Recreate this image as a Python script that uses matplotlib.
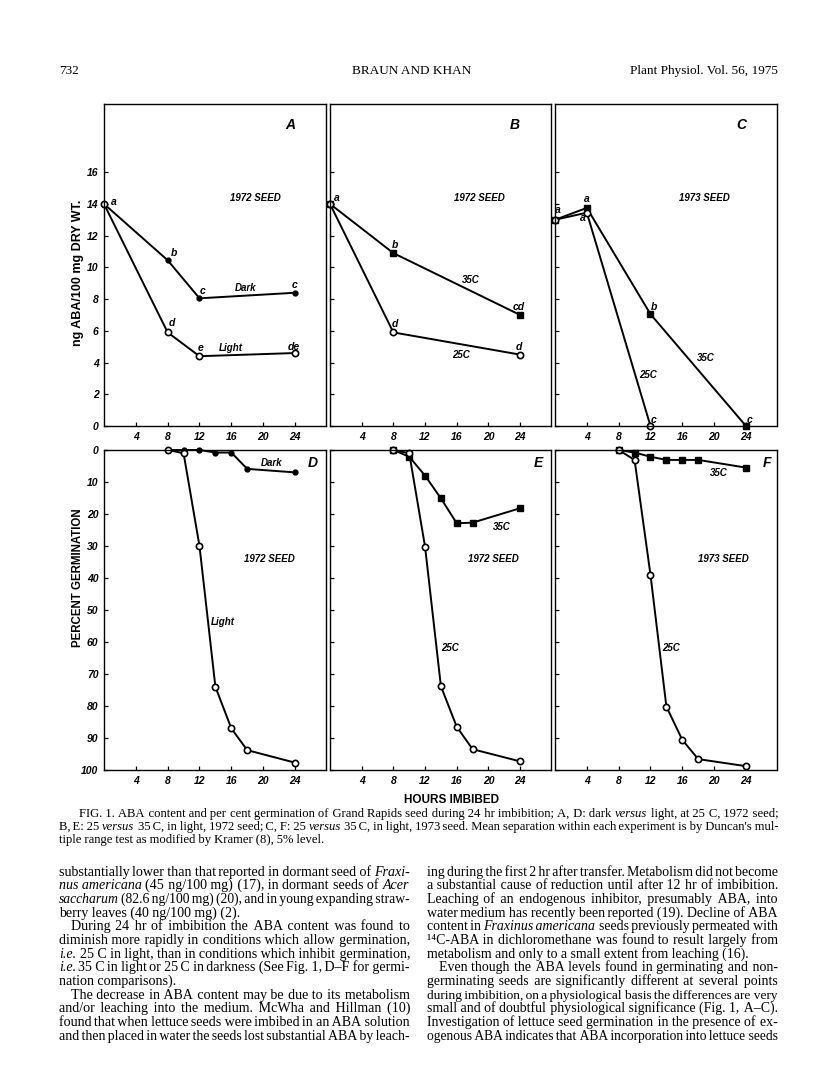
import matplotlib
matplotlib.use('Agg')
import matplotlib.pyplot as plt
import numpy as np

W, H = 816, 1090
SERIF = ['Liberation Serif', 'DejaVu Serif']
SANS = ['Liberation Sans', 'DejaVu Sans']
HAIR = '\u200a'

# ---- data ----
hours_a = [0, 8, 12, 24]
aba_dark = [14.0, 10.45, 8.05, 8.4]
aba_light = [14.0, 5.9, 4.4, 4.6]

hours_b = [0, 8, 24]
aba_b35 = [14.0, 10.9, 7.0]
aba_b25 = [14.0, 5.9, 4.5]

hours_c35 = [0, 4, 12, 24]
aba_c35 = [13.0, 13.75, 7.05, 0.0]
hours_c25 = [0, 4, 12]
aba_c25 = [13.0, 13.45, 0.0]

hours_g = [8, 10, 12, 14, 16, 18, 24]
germ_dark = [0, 0, 0, 0.8, 0.8, 5.9, 7.0]
germ_light = [0, 1.0, 30, 74, 87, 93.8, 97.7]
germ_e35 = [0, 2.1, 8.0, 15.1, 22.9, 22.7, 18.2]
germ_e25 = [0, 1.0, 30.2, 73.8, 86.5, 93.5, 97.3]
germ_f35 = [0, 0.8, 2.1, 3.1, 3.1, 3.1, 5.5]
germ_f25 = [0, 3.1, 39, 80.2, 90.6, 96.6, 98.8]

hour_ticks = [4, 8, 12, 16, 20, 24]
aba_ticks = [0, 2, 4, 6, 8, 10, 12, 14, 16]
germ_ticks = [0, 10, 20, 30, 40, 50, 60, 70, 80, 90, 100]

# mean-separation letters (x, y, text)
letters_a = [(1.25, 14.1, 'a'), (8.8, 10.9, 'b'), (12.4, 8.5, 'c'), (23.9, 8.9, 'c'),
             (8.5, 6.5, 'd'), (12.1, 4.9, 'e'), (23.9, 5.0, 'de')]
letters_b = [(0.9, 14.4, 'a'), (8.2, 11.4, 'b'), (23.8, 7.5, 'cd'),
             (8.2, 6.4, 'd'), (23.8, 5.0, 'd')]
letters_c = [(0.4, 13.6, 'a'), (4.05, 14.3, 'a'), (3.55, 13.1, 'a'),
             (12.4, 7.5, 'b'), (12.4, 0.4, 'c'), (24.4, 0.4, 'c')]

fig = plt.figure(figsize=(W / 100, H / 100), dpi=100, facecolor='white')


def px_axes(left, top, right, bottom):
    return fig.add_axes([left / W, 1 - bottom / H, (right - left) / W, (bottom - top) / H])


def style_axes(ax):
    for sp in ax.spines.values():
        sp.set_linewidth(1.0)
    ax.set_xlim(0, 27.9)
    ax.set_xticks(hour_ticks)
    ax.tick_params(direction='in', length=3, width=0.9, pad=4)
    for lab in ax.get_xticklabels() + ax.get_yticklabels():
        lab.set_family(SANS)
        lab.set_fontweight('bold')
        lab.set_style('italic')
        lab.set_fontsize(7.5)


def lab(ax, x, y, s, size=7, ha='center'):
    ax.text(x, y, s, fontsize=size, family=SANS, fontweight='bold', style='italic',
            ha=ha, va='center')


LW = 1.4
filled_dot = dict(marker='o', ms=3.5, mfc='black', mec='black', color='black', lw=LW, clip_on=False)
open_dot = dict(marker='o', ms=4.5, mfc='white', mec='black', mew=1.2, color='black', lw=LW, clip_on=False)
filled_sq = dict(marker='s', ms=3.8, mfc='black', mec='black', color='black', lw=LW, clip_on=False)

cols = [(104, 326), (330, 551), (555, 777)]

# ---- top row: ABA content ----
axA = px_axes(cols[0][0], 104, cols[0][1], 426)
axB = px_axes(cols[1][0], 104, cols[1][1], 426)
axC = px_axes(cols[2][0], 104, cols[2][1], 426)

axA.plot(hours_a, aba_dark, **filled_dot)
axA.plot(hours_a, aba_light, **open_dot)
axB.plot(hours_b, aba_b35, **filled_sq)
axB.plot(hours_b, aba_b25, **open_dot)
axC.plot(hours_c35, aba_c35, **filled_sq)
axC.plot(hours_c25, aba_c25, **open_dot)

for ax, letters in [(axA, letters_a), (axB, letters_b), (axC, letters_c)]:
    ax.set_ylim(0, 20.3)
    ax.set_yticks(aba_ticks)
    for x, y, s in letters:
        lab(ax, x, y, s, size=7.5)

lab(axA, 17.8, 8.7, 'Dark')
lab(axA, 16.0, 4.9, 'Light')
lab(axB, 17.8, 9.2, '35C')
lab(axB, 16.6, 4.5, '25C')
lab(axC, 19.0, 4.3, '35C')
lab(axC, 11.7, 3.2, '25C')
lab(axA, 19.0, 14.4, '1972 SEED')
lab(axB, 18.8, 14.4, '1972 SEED')
lab(axC, 18.8, 14.4, '1973 SEED')
lab(axA, 23.4, 19.0, 'A', size=10)
lab(axB, 23.3, 19.0, 'B', size=10)
lab(axC, 23.4, 19.0, 'C', size=10)

for ax in (axA, axB, axC):
    style_axes(ax)
for ax in (axB, axC):
    ax.tick_params(labelleft=False)

# ---- bottom row: germination ----
axD = px_axes(cols[0][0], 450, cols[0][1], 770)
axE = px_axes(cols[1][0], 450, cols[1][1], 770)
axF = px_axes(cols[2][0], 450, cols[2][1], 770)

axD.plot(hours_g, germ_dark, **filled_dot)
axD.plot(hours_g, germ_light, **open_dot)
axE.plot(hours_g, germ_e35, **filled_sq)
axE.plot(hours_g, germ_e25, **open_dot)
axF.plot(hours_g, germ_f35, **filled_sq)
axF.plot(hours_g, germ_f25, **open_dot)

for ax in (axD, axE, axF):
    ax.set_ylim(100, 0)
    ax.set_yticks(germ_ticks)

lab(axD, 21.1, 4.2, 'Dark')
lab(axD, 14.9, 53.7, 'Light')
lab(axE, 21.7, 24.0, '35C')
lab(axE, 15.1, 61.9, '25C')
lab(axF, 20.6, 7.3, '35C')
lab(axF, 14.6, 62.0, '25C')
lab(axD, 20.8, 34.0, '1972 SEED')
lab(axE, 20.6, 34.2, '1972 SEED')
lab(axF, 21.1, 34.2, '1973 SEED')
lab(axD, 26.2, 4.2, 'D', size=10)
lab(axE, 26.3, 4.0, 'E', size=10)
lab(axF, 26.6, 4.2, 'F', size=10)

for ax in (axD, axE, axF):
    style_axes(ax)
for ax in (axE, axF):
    ax.tick_params(labelleft=False)


def ftext(x, y, s, **kw):
    return fig.text(x / W, 1 - y / H, s, **kw)


ftext(78, 273, 'ng ABA/100 mg DRY WT.', rotation=90, ha='center', va='center',
      family=SANS, fontsize=9, fontweight='bold')
ftext(78, 578, 'PERCENT GERMINATION', rotation=90, ha='center', va='center',
      family=SANS, fontsize=8.3, fontweight='bold')
ftext(452, 800, 'HOURS IMBIBED', ha='center', va='center', family=SANS,
      fontweight='bold', fontsize=8.5)

# ---- page header ----
ftext(59, 74, '732', ha='left', va='baseline', family=SERIF, fontsize=9.5)
ftext(412, 74, 'BRAUN AND KHAN', ha='center', va='baseline', family=SERIF, fontsize=9.5)
ftext(778, 74, 'Plant Physiol. Vol. 56, 1975', ha='right', va='baseline', family=SERIF, fontsize=9.5)

# ---- justified text: one Text per run of same style, words spaced with hair spaces ----
renderer = fig.canvas.get_renderer()


def serif_text(x, y, s, size, italic):
    return ftext(x, y, s, ha='left', va='baseline', family=SERIF, fontsize=size,
                 style='italic' if italic else 'normal')


def measure(s, size, italic=False):
    t = serif_text(0, 0, s, size, italic)
    w = t.get_window_extent(renderer).width
    t.remove()
    return w


def hair_width(size):
    return (measure('x' + HAIR * 40 + 'x', size) - measure('xx', size)) / 40


def split_words(line):
    return [(tok.lstrip('*'), tok.startswith('*')) for tok in line.split(' ')]


def fit_size(lines, s0=10.0):
    sizes = []
    for line, just, ind, x0, x1 in lines:
        if not just:
            continue
        words = split_words(line)
        wsum = sum(measure(w, s0, it) for w, it in words)
        n = len(words) - 1
        sizes.append((x1 - x0 - ind) / (wsum / s0 + n * 0.25 * 100 / 72))
    return float(np.median(sizes))


def put_line(line, just, x0, x1, y, size):
    words = split_words(line)
    g = len(words) - 1
    s = size
    while True:
        widths = [measure(w, s, it) for w, it in words]
        free = x1 - x0 - sum(widths)
        hw = hair_width(s)
        if not just or g == 0 or free / g >= 2 * hw or s < size * 0.85:
            break
        s -= 0.1
    if just and g > 0:
        n = max(0, int(round(free / hw)))
    else:
        n = g * int(round(s * 0.25 * 100 / 72 / hw))
    # spread n hair spaces over g gaps as evenly as possible
    ks = [(i + 1) * n // g - i * n // g for i in range(g)] if g else []
    runs = []  # (text, italic, hair count after run)
    cur, cur_it = words[0][0], words[0][1]
    for (w, it), k in zip(words[1:], ks):
        if it == cur_it:
            cur += HAIR * k + w
        else:
            runs.append((cur, cur_it, k))
            cur, cur_it = w, it
    runs.append((cur, cur_it, 0))
    x = x0
    for text, it, k in runs:
        t = serif_text(x, y, text, s, it)
        x += t.get_window_extent(renderer).width + k * hw


def put_block(lines, y0, dy):
    size = fit_size(lines)
    for i, (line, just, ind, x0, x1) in enumerate(lines):
        put_line(line, just, x0 + ind, x1, round(y0 + i * dy), size)


L0, L1, R0, R1 = 59, 410, 427, 778

caption = [
    ('FIG. 1. ABA content and per cent germination of Grand Rapids seed during 24 hr imbibition; A, D: dark *versus light, at 25 C, 1972 seed;', True, 20, L0, R1),
    ('B, E: 25 *versus 35 C, in light, 1972 seed; C, F: 25 *versus 35 C, in light, 1973 seed. Mean separation within each experiment is by Duncan\'s mul-', True, 0, L0, R1),
    ('tiple range test as modified by Kramer (8), 5% level.', False, 0, L0, R1),
]

left_col = [
    ('substantially lower than that reported in dormant seed of *Fraxi-', True, 0),
    ('*nus *americana (45 ng/100 mg) (17), in dormant seeds of *Acer', True, 0),
    ('*saccharum (82.6 ng/100 mg) (20), and in young expanding straw-', True, 0),
    ('berry leaves (40 ng/100 mg) (2).', False, 0),
    ('During 24 hr of imbibition the ABA content was found to', True, 12),
    ('diminish more rapidly in conditions which allow germination,', True, 0),
    ('*i.e. 25 C in light, than in conditions which inhibit germination,', True, 0),
    ('*i.e. 35 C in light or 25 C in darkness (See Fig. 1, D–F for germi-', True, 0),
    ('nation comparisons).', False, 0),
    ('The decrease in ABA content may be due to its metabolism', True, 12),
    ('and/or leaching into the medium. McWha and Hillman (10)', True, 0),
    ('found that when lettuce seeds were imbibed in an ABA solution', True, 0),
    ('and then placed in water the seeds lost substantial ABA by leach-', True, 0),
]
right_col = [
    ('ing during the first 2 hr after transfer. Metabolism did not become', True, 0),
    ('a substantial cause of reduction until after 12 hr of imbibition.', True, 0),
    ('Leaching of an endogenous inhibitor, presumably ABA, into', True, 0),
    ('water medium has recently been reported (19). Decline of ABA', True, 0),
    ('content in *Fraxinus *americana seeds previously permeated with', True, 0),
    ('¹⁴C-ABA in dichloromethane was found to result largely from', True, 0),
    ('metabolism and only to a small extent from leaching (16).', False, 0),
    ('Even though the ABA levels found in germinating and non-', True, 12),
    ('germinating seeds are significantly different at several points', True, 0),
    ('during imbibition, on a physiological basis the differences are very', True, 0),
    ('small and of doubtful physiological significance (Fig. 1, A–C).', True, 0),
    ('Investigation of lettuce seed germination in the presence of ex-', True, 0),
    ('ogenous ABA indicates that ABA incorporation into lettuce seeds', True, 0),
]

put_block(caption, 817, 13.2)
put_block([(l, j, i, L0, L1) for l, j, i in left_col], 875.5, 13.7)
put_block([(l, j, i, R0, R1) for l, j, i in right_col], 875.5, 13.7)

fig.savefig('out.png', dpi=100, facecolor='white')
